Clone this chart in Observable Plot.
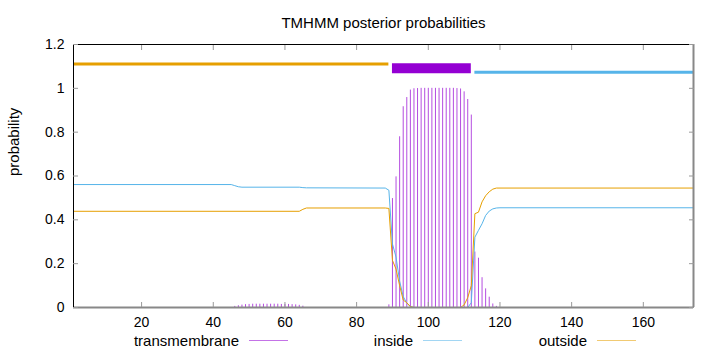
<!DOCTYPE html>
<html><head><meta charset="utf-8">
<script src="https://cdn.jsdelivr.net/npm/d3@7"></script>
<script src="https://cdn.jsdelivr.net/npm/@observablehq/plot@0.6"></script>
<style>body{margin:0;background:#fff} #chart{width:720px;height:352px}</style>
</head><body><div id="chart"></div>
<script>
const title = "TMHMM posterior probabilities";
const yLabel = "probability";
const seqRange = [1, 174];
const probRange = [0, 1.2];
const xTicks = [20, 40, 60, 80, 100, 120, 140, 160];
const yTicks = [0, 0.2, 0.4, 0.6, 0.8, 1, 1.2];
const yTickLabels = ["0", "0.2", "0.4", "0.6", "0.8", "1", "1.2"];
const seriesNames = ["transmembrane", "inside", "outside"];
const seriesColors = ["#9400d3", "#56b4e9", "#e69f00"];

// transmembrane posterior (impulses), residue positions and values
const tmPos = [46,47,48,49,50,51,52,53,54,55,56,57,58,59,60,61,62,63,64,65,
  89,90,91,92,93,94,95,96,97,98,99,100,101,102,103,104,105,106,107,108,109,
  110,111,112,113,114,115,116,117,118,119];
const tmProb = [0.005,0.008,0.011,0.013,0.014,0.015,0.015,0.015,0.015,0.015,0.015,0.015,0.015,0.014,0.014,0.014,0.013,0.012,0.010,0.006,
  0.012,0.497,0.596,0.779,0.916,0.958,0.992,0.998,0.999,1,1,1,1,1,1,1,1,1,1,0.999,0.997,
  0.984,0.949,0.878,0.253,0.225,0.136,0.085,0.047,0.016,0.005];

// inside posterior (line)
const insidePos  = [1,45,46,47,48,64,65,66,88,89,90,91,92,93,94,95,96,111,112,113,114,115,116,117,118,119,120,174];
const insideProb = [0.561,0.561,0.556,0.551,0.549,0.549,0.547,0.546,0.545,0.535,0.29,0.23,0.12,0.05,0.02,0.004,0,0,0.022,0.321,0.352,0.382,0.42,0.44,0.45,0.454,0.455,0.455];

// outside posterior (line)
const outsidePos  = [1,64,65,66,88,89,90,91,92,93,94,95,96,109,110,111,112,113,114,115,116,117,118,119,174];
const outsideProb = [0.439,0.439,0.448,0.454,0.454,0.452,0.215,0.175,0.10,0.034,0.022,0.004,0,0,0.012,0.045,0.10,0.428,0.435,0.482,0.51,0.528,0.540,0.545,0.545];

// predicted topology bars
const topoLabel = ["outside", "transmembrane", "inside"];
const topoStart = [1, 90, 113];
const topoEnd   = [89, 112, 174];
const topoLevel = [1.111, 1.092, 1.073];

const tm = tmPos.map((p, i) => ({pos: p, prob: tmProb[i]}));
const inside = insidePos.map((p, i) => ({pos: p, prob: insideProb[i]}));
const outside = outsidePos.map((p, i) => ({pos: p, prob: outsideProb[i]}));
const colorOf = name => seriesColors[seriesNames.indexOf(name)];
const topo = topoLabel.map((l, i) => ({label: l, start: topoStart[i], end: topoEnd[i], level: topoLevel[i]}));

const font = "'Liberation Sans', Arial, Helvetica, sans-serif";

const svg = Plot.plot({
  width: 720, height: 352,
  marginLeft: 73, marginRight: 27, marginTop: 44, marginBottom: 45,
  x: {domain: seqRange},
  y: {domain: probRange},
  color: {type: "identity"},
  style: {fontFamily: font, fontSize: "14px", color: "#000", background: "#fff", overflow: "visible"},
  marks: [
    Plot.ruleX(tm, {x: "pos", y1: 0, y2: "prob", stroke: colorOf("transmembrane"), strokeWidth: 1, strokeOpacity: 0.7}),
    Plot.line(inside, {x: "pos", y: "prob", stroke: colorOf("inside"), strokeWidth: 1}),
    Plot.line(outside, {x: "pos", y: "prob", stroke: colorOf("outside"), strokeWidth: 1}),
    Plot.ruleY(topo, {y: "level", x1: "start", x2: "end", stroke: d => colorOf(d.label),
      strokeWidth: d => d.label === "transmembrane" ? 10 : 3, strokeLinecap: "butt"}),
    Plot.ruleY([probRange[0]], {stroke: "#888", strokeWidth: 2}),
    Plot.ruleX([seqRange[1]], {stroke: "#888", strokeWidth: 2}),
    Plot.ruleY([probRange[1]], {stroke: "#000", strokeWidth: 1}),
    Plot.ruleX([seqRange[0]], {stroke: "#000", strokeWidth: 1}),
    Plot.axisY(yTicks, {anchor: "left", tickSize: 0, tickPadding: 9, label: null, stroke: "none",
      tickFormat: d => yTickLabels[yTicks.indexOf(d)]}),
    Plot.axisY(yTicks, {anchor: "left", tickSize: 5, dx: 5, fill: "none", label: null, stroke: "#999"}),
    Plot.axisY(yTicks, {anchor: "right", tickSize: 5, dx: -5, fill: "none", label: null, stroke: "#999"}),
    Plot.axisX(xTicks, {anchor: "bottom", tickSize: 0, tickPadding: 10, label: null, stroke: "none", tickFormat: d => String(d)}),
    Plot.axisX(xTicks, {anchor: "bottom", tickSize: 5, dy: -5, fill: "none", label: null, stroke: "#999"}),
    Plot.axisX(xTicks, {anchor: "top", tickSize: 5, dy: 5, fill: "none", label: null, stroke: "#999"}),
    Plot.text([title], {frameAnchor: "top", lineAnchor: "bottom", dy: -17, fontSize: 15}),
    Plot.text([yLabel], {frameAnchor: "left", rotate: -90, dx: -59, fontSize: 15})
  ]
});

// legend (gnuplot style key at bottom)
const sel = d3.select(svg);
const key = sel.append("g").attr("font-family", font).attr("font-size", 15);
seriesNames.forEach((name, i) => {
  const x0 = 239 + i * 174;
  key.append("text").attr("x", x0).attr("y", 345.5).attr("text-anchor", "end").attr("fill", "#000").text(name);
  key.append("line").attr("x1", x0 + 10).attr("x2", x0 + 49).attr("y1", 340.5).attr("y2", 340.5)
    .attr("stroke", seriesColors[i]).attr("stroke-width", 1).attr("stroke-opacity", 0.55);
});

document.getElementById("chart").appendChild(svg);
</script>
</body></html>
